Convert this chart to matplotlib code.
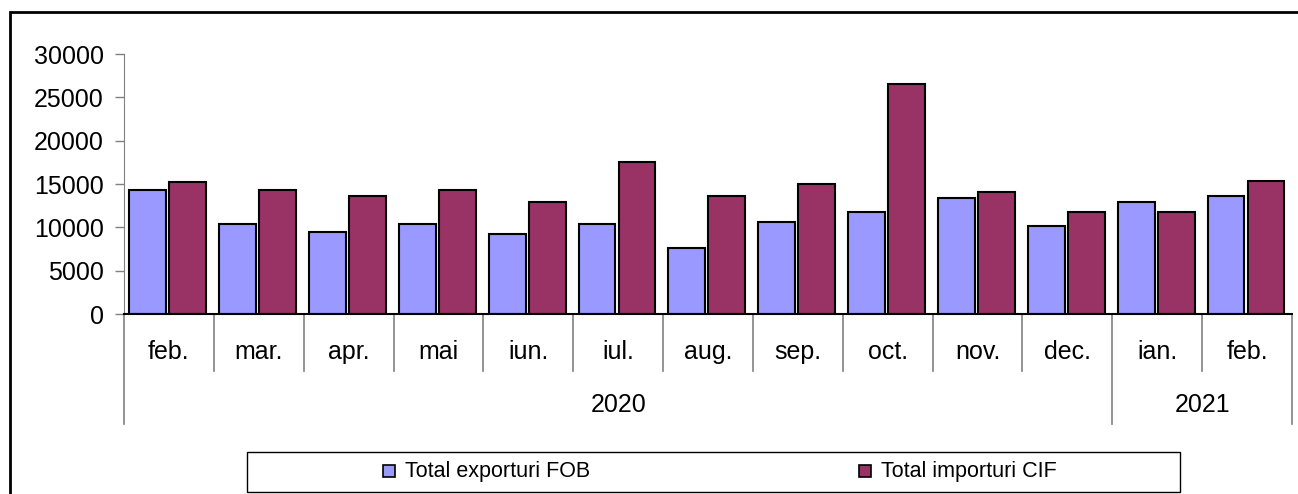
import matplotlib
matplotlib.use("Agg")
import matplotlib.pyplot as plt
import matplotlib.transforms as mtransforms
from matplotlib.patches import Rectangle
import numpy as np

plt.rcParams['font.family'] = ['Liberation Sans', 'DejaVu Sans']

months = ["feb.", "mar.", "apr.", "mai", "iun.", "iul.", "aug.", "sep.", "oct.",
          "nov.", "dec.", "ian.", "feb."]
years = ["2020", "2021"]
year_spans = [11, 2]
exports = [14300, 10400, 9450, 10400, 9200, 10400, 7600, 10600, 11750,
           13350, 10150, 12900, 13600]
imports = [15200, 14300, 13600, 14300, 12900, 17500, 13600, 14950, 26500,
           14050, 11750, 11750, 15400]
series_names = ["Total exporturi FOB", "Total importuri CIF"]
colors = ["#9999FF", "#993366"]

W, H = 1298, 494
fig = plt.figure(figsize=(W / 100, H / 100), dpi=100)

# outer frame (only left and top edges visible in the picture)
fig.patches.append(Rectangle((10 / W, -0.2), 1.5, 1.2 - 12 / H, transform=fig.transFigure,
                             fill=False, edgecolor="black", lw=2))

ax = fig.add_axes([124 / W, (H - 314) / H, (1292 - 124) / W, 260 / H])
x = np.arange(len(months))
ax.bar(x - 0.235, exports, 0.41, color=colors[0], edgecolor="black", lw=1.5, zorder=3)
ax.bar(x + 0.21, imports, 0.41, color=colors[1], edgecolor="black", lw=1.5, zorder=3)

ax.set_xlim(-0.5, len(months) - 0.5)
ax.set_ylim(0, 30000)
ax.set_yticks(np.arange(0, 30001, 5000))
ax.set_xticks([])
ax.tick_params(axis="y", direction="out", length=6.5, width=1, color="#808080",
               labelsize=18, pad=8)
for s in ["top", "right"]:
    ax.spines[s].set_visible(False)
ax.spines["left"].set_color("#808080")
ax.spines["bottom"].set_color("black")
ax.spines["bottom"].set_linewidth(1.5)
ax.spines["bottom"].set_zorder(4)

trans = mtransforms.blended_transform_factory(ax.transData, ax.transAxes)
month_bottom = -(371 - 314) / 260
year_bottom = -(424 - 314) / 260

# year boundaries reach down through the year row
year_edges = np.concatenate([[0], np.cumsum(year_spans)]) - 0.5
for b in np.arange(len(months) + 1) - 0.5:
    low = year_bottom if b in year_edges else month_bottom
    ax.plot([b, b], [0, low], transform=trans, clip_on=False, color="#808080", lw=1.2)

for i, m in enumerate(months):
    ax.text(i, -(352 - 314) / 260, m, transform=trans, ha="center", va="center",
            fontsize=18)
for i, yname in enumerate(years):
    c = (year_edges[i] + year_edges[i + 1]) / 2
    ax.text(c, -(405 - 314) / 260, yname, transform=trans, ha="center", va="center",
            fontsize=18)

# legend box
fig.patches.append(Rectangle((247 / W, (H - 492) / H), (1180 - 247) / W, 40 / H,
                             transform=fig.transFigure, fill=False,
                             edgecolor="black", lw=1))
for name, col, mx in zip(series_names, colors, [383, 859]):
    fig.patches.append(Rectangle((mx / W, (H - 477) / H), 12 / W, 12 / H,
                                 transform=fig.transFigure, facecolor=col,
                                 edgecolor="black", lw=1.2))
    fig.text((mx + 22) / W, (H - 471) / H, name, ha="left", va="center", fontsize=15.5)

fig.savefig("out.png", dpi=100)
